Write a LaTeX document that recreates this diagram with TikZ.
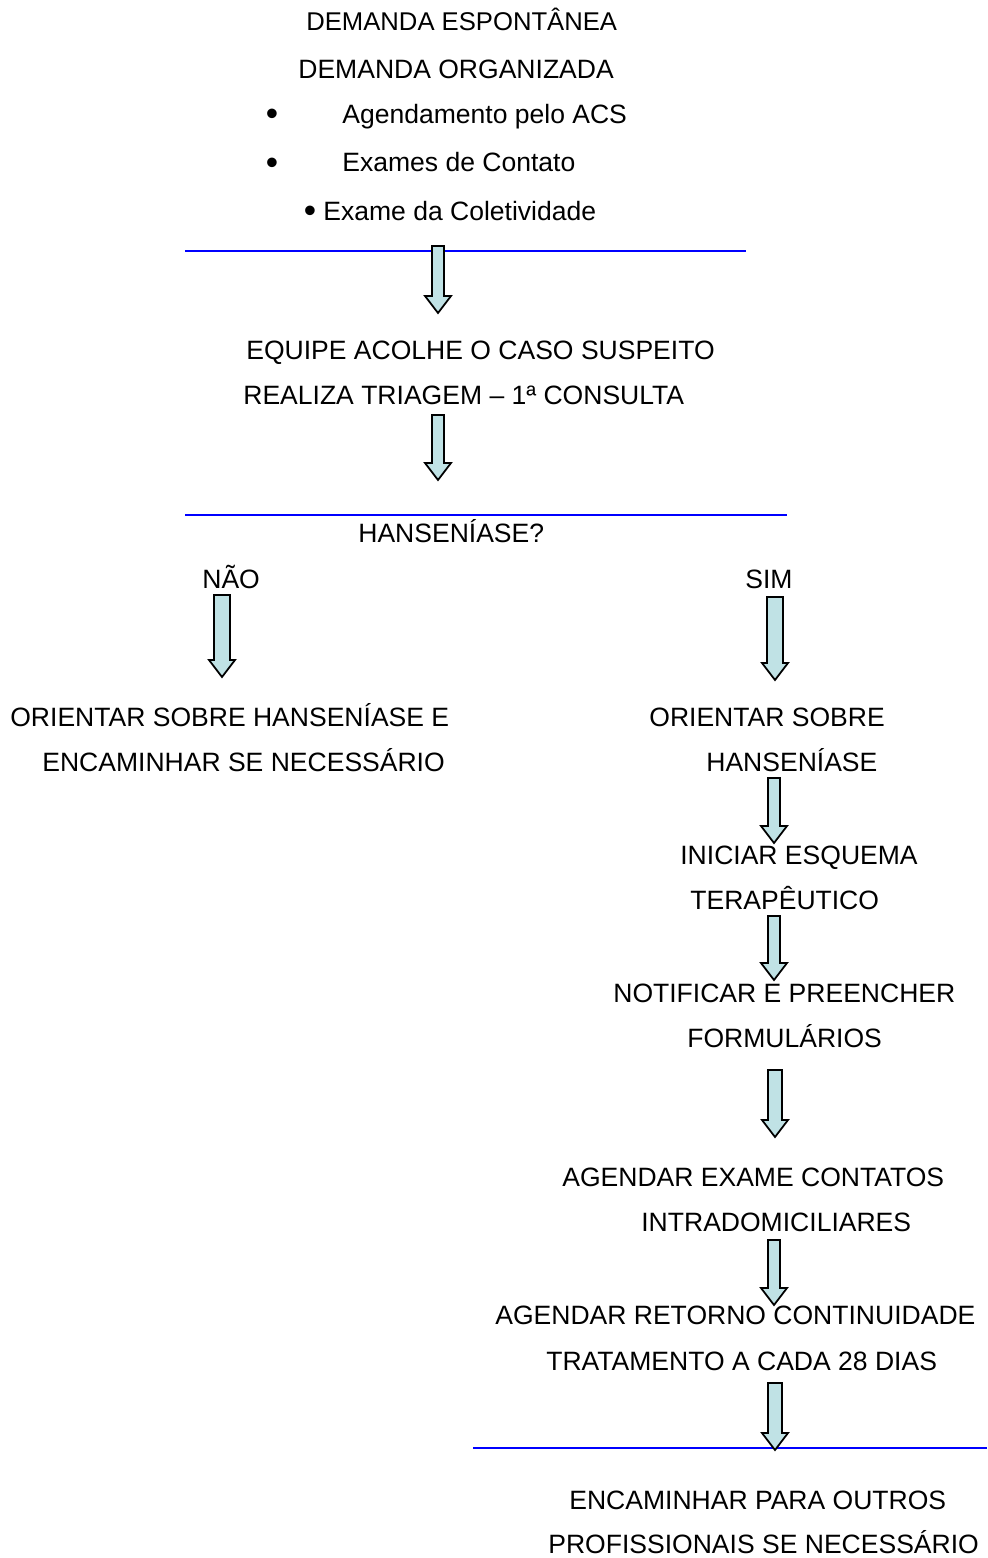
\documentclass[tikz,border=0pt]{standalone}
\usepackage{fontspec}
\setmainfont{Liberation Sans}
\definecolor{arrowfill}{RGB}{192,226,229}
\tikzset{
  lbl/.style={anchor=base west, inner sep=0pt, font=\fontsize{15.1}{18}\selectfont},
  bul/.style={anchor=base, inner sep=0pt, font=\fontsize{20}{20}\selectfont},
  rule/.style={blue, line width=1.1pt},
  barrow/.style={draw=black, fill=arrowfill, line width=1pt, line join=miter}
}
\begin{document}
\begin{tikzpicture}[x=0.02cm,y=-0.02cm]
\useasboundingbox (0,0) rectangle (987,1558);

% entrada
\node[lbl, font=\fontsize{14.6}{18}\selectfont] (espont) at (306,31) {DEMANDA ESPONTÂNEA};
\node[lbl] (organiz) at (298,79) {DEMANDA ORGANIZADA};
\node[bul] (b1) at (272,126) {•};
\node[lbl] (agend) at (342,124) {Agendamento pelo ACS};
\node[bul] (b2) at (272,174) {•};
\node[lbl] (exames) at (342,172) {Exames de Contato};
\node[bul] (b3) at (310,222) {•};
\node[lbl] (colet) at (323,220) {Exame da Coletividade};

\draw[rule] (185,251) -- (746,251);

\node[lbl] (acolhe) at (246,359) {EQUIPE ACOLHE O CASO SUSPEITO};
\node[lbl] (triagem) at (243,404) {REALIZA TRIAGEM – 1ª CONSULTA};

\draw[rule] (185,515) -- (787,515);

\node[lbl] (hans) at (358,542) {HANSENÍASE?};
\node[lbl] (nao) at (202,588) {NÃO};
\node[lbl] (sim) at (745,588) {SIM};

% ramo nao
\node[lbl] (orientA) at (10,726) {ORIENTAR SOBRE HANSENÍASE E};
\node[lbl] (orientB) at (42,771) {ENCAMINHAR SE NECESSÁRIO};

% ramo sim
\node[lbl] (simA) at (649,726) {ORIENTAR SOBRE};
\node[lbl] (simB) at (706,771) {HANSENÍASE};
\node[lbl] (iniciarA) at (680,864) {INICIAR ESQUEMA};
\node[lbl] (iniciarB) at (690,909) {TERAPÊUTICO};
\node[lbl] (notifA) at (613,1002) {NOTIFICAR E PREENCHER};
\node[lbl] (notifB) at (687,1047) {FORMULÁRIOS};
\node[lbl] (contA) at (562,1186) {AGENDAR EXAME CONTATOS};
\node[lbl] (contB) at (641,1231) {INTRADOMICILIARES};
\node[lbl] (retA) at (495,1324) {AGENDAR RETORNO CONTINUIDADE};
\node[lbl] (retB) at (546,1370) {TRATAMENTO A CADA 28 DIAS};

\draw[rule] (473,1448) -- (987,1448);

\node[lbl] (encA) at (569,1509) {ENCAMINHAR PARA OUTROS};
\node[lbl] (encB) at (548,1553) {PROFISSIONAIS SE NECESSÁRIO};

% setas
\foreach \x/\t/\b/\w in {438/246/313/6, 438/415/480/6, 222/595/677/8, 775/597/680/8,
  774/778/843/6, 774/916/980/6, 775/1070/1137/7, 774/1240/1305/6, 775/1383/1450/7}
  \draw[barrow] ({\x-\w},\t) -- ({\x+\w},\t) -- ({\x+\w},{\b-17}) -- ({\x+13},{\b-17})
    -- (\x,\b) -- ({\x-13},{\b-17}) -- ({\x-\w},{\b-17}) -- cycle;
\end{tikzpicture}
\end{document}
